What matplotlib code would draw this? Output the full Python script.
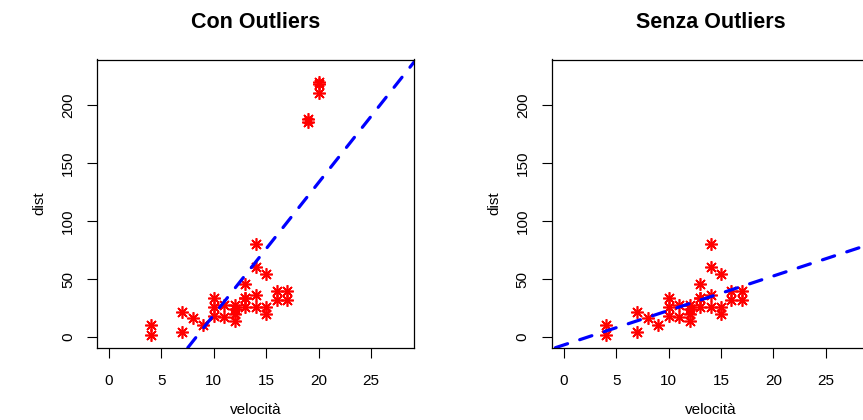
import matplotlib
matplotlib.use('Agg')
import matplotlib.pyplot as plt
import numpy as np

plt.rcParams['font.family'] = ['Liberation Sans', 'DejaVu Sans']

# primi 30 record del dataset cars
velocita = [4, 4, 7, 7, 8, 9, 10, 10, 10, 11, 11, 12, 12, 12, 12,
            13, 13, 13, 13, 14, 14, 14, 14, 15, 15, 15, 16, 16, 17, 17]
dist = [2, 10, 4, 22, 16, 10, 18, 26, 34, 17, 28, 14, 20, 24, 28,
        26, 34, 34, 46, 26, 36, 60, 80, 20, 26, 54, 32, 40, 32, 40]

# punti anomali aggiunti
out_vel = [19, 19, 20, 20, 20]
out_dist = [185, 188, 210, 218, 220]

x_ticks = [0, 5, 10, 15, 20, 25]
y_ticks = [0, 50, 100, 150, 200]
xlim = (0, 28)
ylim = (0, 230)

W, H = 863, 420
fig = plt.figure(figsize=(W / 100, H / 100), dpi=100)

star = (8, 2, 0)
AW, AH = 317, 288.2
TOP = 59.5


def pannello(left, x, y, titolo):
    ax = fig.add_axes([left / W, (H - TOP - AH) / H, AW / W, AH / H])
    ax.plot(x, y, linestyle='none', marker=star, markersize=9,
            markeredgewidth=1.2, color='red')
    m, b = np.polyfit(x, y, 1)
    ax.axline((0, b), slope=m, color='blue', linewidth=2.3,
              dashes=(4, 4), dash_capstyle='round')
    dx = (xlim[1] - xlim[0]) * 0.04
    dy = (ylim[1] - ylim[0]) * 0.04
    ax.set_xlim(xlim[0] - dx, xlim[1] + dx)
    ax.set_ylim(ylim[0] - dy, ylim[1] + dy)
    ax.set_xticks(x_ticks)
    ax.set_yticks(y_ticks)
    ax.tick_params(axis='x', length=7, width=0.8, pad=12, labelsize=11)
    ax.tick_params(axis='y', length=7, width=0.8, pad=9, labelsize=11)
    for t in ax.get_yticklabels():
        t.set_rotation(90)
        t.set_va('center')
    for s in ax.spines.values():
        s.set_linewidth(0.9)
    cx = (left + AW / 2) / W
    fig.text(cx, 1 - 23 / H, titolo, fontsize=15.5, fontweight='bold',
             ha='center', va='center')
    fig.text(cx, 1 - 410 / H, 'velocità', fontsize=11,
             ha='center', va='center')
    fig.text((left - 58) / W, 1 - (TOP + AH / 2) / H, 'dist', fontsize=11,
             rotation=90, ha='center', va='center')
    return ax


pannello(97.3, velocita + out_vel, dist + out_dist, 'Con Outliers')
pannello(552, velocita, dist, 'Senza Outliers')

fig.savefig('out.png', dpi=100)
